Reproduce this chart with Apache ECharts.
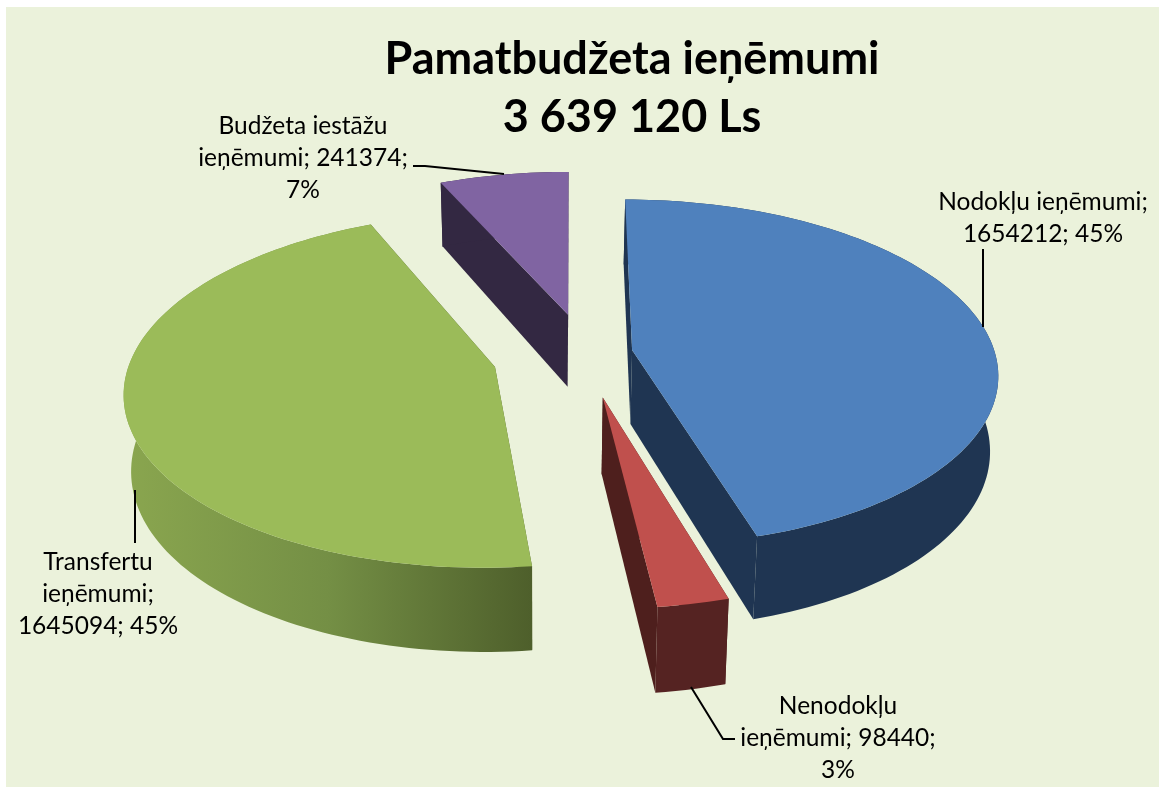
<!DOCTYPE html>
<html>
<head>
<meta charset="utf-8">
<title>Pamatbudžeta ieņēmumi</title>
<style>
    html, body { margin: 0; padding: 0; background: #fff; }
    #chart { width: 1159px; height: 787px; }
</style>
<script src="https://cdn.jsdelivr.net/npm/echarts@6/dist/echarts.min.js"></script>
</head>
<body>
<div id="chart"></div>
<script>
// dati
let categories = ["Nodokļu ieņēmumi", "Nenodokļu ieņēmumi", "Transfertu ieņēmumi", "Budžeta iestāžu ieņēmumi"];
let values = [1654212, 98440, 1645094, 241374];
let titleLines = ["Pamatbudžeta ieņēmumi", "3 639 120 Ls"];
// {v} = value, {p} = percent, line breaks as in the original labels
let labelTemplates = [
    "Nodokļu ieņēmumi;\n{v}; {p}%",
    "Nenodokļu\nieņēmumi; {v};\n{p}%",
    "Transfertu\nieņēmumi;\n{v}; {p}%",
    "Budžeta iestāžu\nieņēmumi; {v};\n{p}%"
];

// 3D look: pie plane seen in perspective
const view = { cx: 572, cy: 350, r: 362, ry: 170, persp: 0.13, wall: 74, wallGrow: 9.3, shrink: 0.018, shrinkX: 540 };
// how far each slice is pulled out, in pie radii
const explode = [[0.166, 0], [0.082, 0.27], [-0.21, 0.098], [-0.011, -0.213]];
const topColor = ["#4F81BD", "#C0504D", "#9BBB59", "#8064A2"];
const sideColor = ["#1F3552", "#4E1F1D", "#4E5F2B", "#332842"];
const wallColor = [
    "#1F3552",
    "#552322",
    new echarts.graphic.LinearGradient(0, 0, 1, 0, [
        { offset: 0, color: "#8AA64F" },
        { offset: 0.5, color: "#748F45" },
        { offset: 1, color: "#4E5F2B" }
    ]),
    "#332842"
];
const labelPos = [[1043, 218], [838, 738], [98, 594], [303, 158]];
const leaders = [
    [[983, 249], [983, 327]],
    [[691, 687], [723, 739], [735, 739]],
    [[135, 490], [135, 543]],
    [[413, 166], [425, 166], [504, 174]]
];

const total = values.reduce((a, b) => a + b, 0);

// plane point -> screen, z 0 = top of the pie, 1 = bottom
function project(u, v, z) {
    let s = 1 / (1 - view.persp * v);
    let x = view.cx + view.r * u * s;
    let y = view.cy + view.ry * v * s;
    if (z) {
        x = view.shrinkX + (x - view.shrinkX) * (1 - view.shrink);
        y += (view.wall + view.wallGrow * v) ;
    }
    return [x, y];
}

function renderSlice(params, api) {
    let i = params.dataIndex;
    let start = api.value(0) / total * Math.PI * 2;
    let end = api.value(1) / total * Math.PI * 2;
    let du = explode[i][0], dv = explode[i][1];

    let rim = [];
    let steps = Math.max(4, Math.ceil((end - start) * 40));
    for (let k = 0; k <= steps; k++) {
        let a = start + (end - start) * k / steps;
        rim.push([du + Math.sin(a), dv - Math.cos(a)]);
    }
    let first = rim[0], last = rim[rim.length - 1];
    let face = (pts, fill) => ({ type: "polygon", shape: { points: pts }, style: { fill: fill } });

    return {
        type: "group",
        children: [
            face([project(du, dv, 0), project(first[0], first[1], 0), project(first[0], first[1], 1), project(du, dv, 1)], sideColor[i]),
            face([project(du, dv, 0), project(last[0], last[1], 0), project(last[0], last[1], 1), project(du, dv, 1)], sideColor[i]),
            face(rim.map(p => project(p[0], p[1], 0)).concat(rim.slice().reverse().map(p => project(p[0], p[1], 1))), wallColor[i]),
            face([project(du, dv, 0)].concat(rim.map(p => project(p[0], p[1], 0))), topColor[i])
        ]
    };
}

let acc = 0;
let sliceData = values.map((v, i) => {
    let row = [acc, acc + v, v, categories[i]];
    acc += v;
    return row;
});

let labelElements = values.map((v, i) => ({
    type: "text",
    z: 10,
    style: {
        text: labelTemplates[i].replace("{v}", v).replace("{p}", Math.round(v / total * 100)),
        x: labelPos[i][0],
        y: labelPos[i][1],
        align: "center",
        verticalAlign: "middle",
        lineHeight: 32,
        font: "24.5px Lato",
        fill: "#000"
    }
}));
let leaderElements = leaders.map(pts => ({
    type: "polyline",
    z: 10,
    shape: { points: pts },
    style: { stroke: "#000", lineWidth: 2, fill: null }
}));

var myChart = echarts.init(document.getElementById("chart"));
let option = {
    animation: false,
    title: {
        text: titleLines.join("\n"),
        left: 627,
        top: 25,
        textAlign: "center",
        textStyle: { fontFamily: "Lato", fontWeight: "bold", fontSize: 45, lineHeight: 58, color: "#000" }
    },
    graphic: [
        { type: "rect", z: -10, shape: { x: 6, y: 7, width: 1153, height: 780 }, style: { fill: "#EBF2DB" } }
    ].concat(leaderElements, labelElements),
    series: [
        {
            type: "custom",
            coordinateSystem: "none",
            renderItem: renderSlice,
            encode: { value: 2, itemName: 3 },
            data: sliceData
        }
    ]
};
myChart.setOption(option);
</script>
</body>
</html>
